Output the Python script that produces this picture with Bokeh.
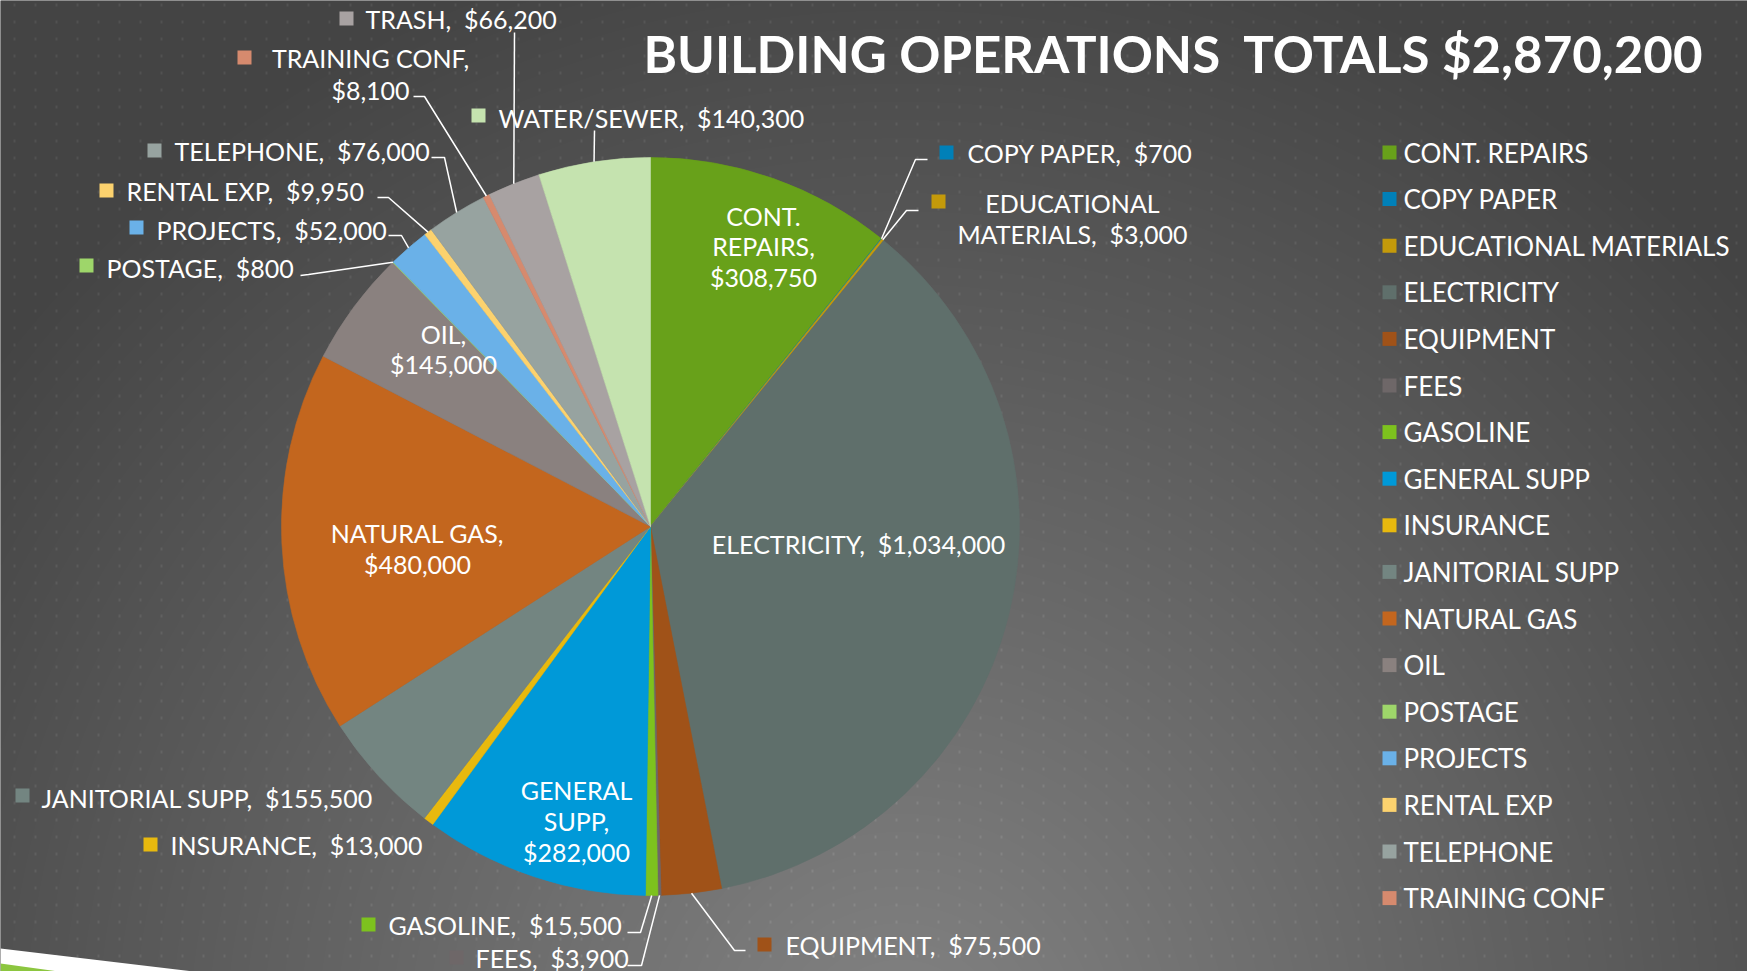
import numpy as np
from bokeh.plotting import figure
from bokeh.models import Range1d, ColumnDataSource
from bokeh.embed import file_html
from bokeh.resources import INLINE
from bokeh.core.properties import value

# ---------------- data ----------------
categories = ["CONT. REPAIRS", "COPY PAPER", "EDUCATIONAL MATERIALS", "ELECTRICITY",
              "EQUIPMENT", "FEES", "GASOLINE", "GENERAL SUPP", "INSURANCE",
              "JANITORIAL SUPP", "NATURAL GAS", "OIL", "POSTAGE", "PROJECTS",
              "RENTAL EXP", "TELEPHONE", "TRAINING CONF", "TRASH", "WATER/SEWER"]
amounts = [308750, 700, 3000, 1034000, 75500, 3900, 15500, 282000, 13000,
           155500, 480000, 145000, 800, 52000, 9950, 76000, 8100, 66200, 140300]
colors = ["#68A11A", "#0080B8", "#C49A0A", "#5F6F6B", "#A05218", "#6E6768",
          "#7DC21E", "#0099D8", "#E8B90E", "#738581", "#C3661E", "#8A817F",
          "#9ED66A", "#6AB1E8", "#FCD26E", "#97A3A0", "#D68A6E", "#A8A2A2",
          "#C5E3AF"]
legend_count = 17
title_prefix = "BUILDING OPERATIONS\u00a0 TOTALS"

# ---------------- layout (reference pixel coords, y down) ----------------
W, H, OFF, REF_H = 1747, 971, 0, 971
CX, CY, R = 650, 526, 369
FONT = value("Lato")
LBL = "25px"


def fy(y):
    return REF_H - y


# label layout: kind, text anchor, line y's, token breaks, square, elbow points
layout = {
    "CONT. REPAIRS": dict(kind="in", x=763, ys=[215, 245, 276], breaks=[1, 2]),
    "ELECTRICITY": dict(kind="in", x=858, ys=[543], breaks=[]),
    "GENERAL SUPP": dict(kind="in", x=576, ys=[789, 820, 851], breaks=[1, 2]),
    "NATURAL GAS": dict(kind="in", x=417, ys=[532, 563], breaks=[2]),
    "OIL": dict(kind="in", x=443, ys=[333, 363], breaks=[1]),
    "COPY PAPER": dict(kind="out", align="left", x=967, ys=[152], breaks=[], sq=(946, 152),
                       elbow=[(927, 159), (915, 159)]),
    "EDUCATIONAL MATERIALS": dict(kind="out", align="center", x=1072, ys=[202, 233], breaks=[1],
                                  sq=(938, 201), elbow=[(918, 210), (906, 210)]),
    "EQUIPMENT": dict(kind="out", align="left", x=785, ys=[944], breaks=[], sq=(764, 944),
                      elbow=[(745, 950), (734, 950)]),
    "FEES": dict(kind="out", align="left", x=475, ys=[957], breaks=[], sq=(456, 957),
                 elbow=[(627, 965), (641, 965)]),
    "GASOLINE": dict(kind="out", align="left", x=388, ys=[924], breaks=[], sq=(368, 924),
                     elbow=[(627, 932), (640, 932)]),
    "INSURANCE": dict(kind="out", align="left", x=170, ys=[844], breaks=[], sq=(150, 844), elbow=None),
    "JANITORIAL SUPP": dict(kind="out", align="left", x=41, ys=[797], breaks=[], sq=(22, 795), elbow=None),
    "POSTAGE": dict(kind="out", align="left", x=106, ys=[267], breaks=[], sq=(86, 265),
                    elbow=[(300, 275), (308, 274)]),
    "PROJECTS": dict(kind="out", align="left", x=156, ys=[229], breaks=[], sq=(136, 227),
                     elbow=[(388, 235), (401, 235)]),
    "RENTAL EXP": dict(kind="out", align="left", x=126, ys=[190], breaks=[], sq=(106, 190),
                       elbow=[(377, 197), (388, 197)]),
    "TELEPHONE": dict(kind="out", align="left", x=174, ys=[150], breaks=[], sq=(154, 150),
                      elbow=[(431, 157), (444, 157)]),
    "TRAINING CONF": dict(kind="out", align="center", x=370, ys=[57, 89], breaks=[2],
                          sq=(244, 57), elbow=[(413, 96), (424, 96)]),
    "TRASH": dict(kind="out", align="left", x=365, ys=[18], breaks=[], sq=(346, 18),
                  elbow=[(514, 32)]),
    "WATER/SEWER": dict(kind="out", align="left", x=498, ys=[117], breaks=[], sq=(478, 115),
                        elbow=[(594, 130)]),
}

# ---------------- figure ----------------
p = figure(width=W, height=H, x_range=Range1d(OFF, OFF + W),
           y_range=Range1d(REF_H - OFF - H, REF_H - OFF),
           output_backend="svg", toolbar_location=None,
           x_axis_type=None, y_axis_type=None, min_border=0)
p.grid.visible = False
p.outline_line_color = None
p.background_fill_color = "#555555"
p.border_fill_color = "#555555"

# background gradient with dotted grid
xs = OFF + np.arange(W) + 0.5
ys = OFF + np.arange(H) + 0.5
X, Y = np.meshgrid(xs, ys)
d = np.hypot(X - 900, Y - 1050)
v = 131 - 63 * np.clip(d / 1150.0, 0, 1)
dots = (((X - 13) % 21.0) < 2) & (((Y - 3.2) % 16.98) < 3)
v = np.clip(v + np.where(dots, 13, 0), 0, 255).astype(np.uint8)
img = np.empty((H, W), dtype=np.uint32)
view = img.view(dtype=np.uint8).reshape((H, W, 4))
view[..., 0] = v
view[..., 1] = v
view[..., 2] = v
view[..., 3] = 255
img = np.ascontiguousarray(img[::-1])
p.image_rgba(image=[img], x=OFF, y=REF_H - OFF - H, dw=W, dh=H)

# decorative stripe bottom-left
p.patch([0, 193, 0], [fy(948), fy(971), fy(971)], fill_color="white", line_color=None)
p.patch([0, 58, 0], [fy(963), fy(971), fy(971)], fill_color="#8CC63F", line_color=None)

# title
total = sum(amounts)
p.text(x=[643], y=[fy(53)], text=[f"{title_prefix} ${total:,}"], text_font=FONT,
       text_font_size="51px", text_font_style="bold", text_color="white",
       text_align="left", text_baseline="middle")

# pie
frac = np.array(amounts, dtype=float) / total
cum = np.concatenate([[0.0], np.cumsum(frac)])
start = np.pi / 2 - 2 * np.pi * cum[:-1]
end = np.pi / 2 - 2 * np.pi * cum[1:]
mid = (start + end) / 2
src = ColumnDataSource(dict(start=start, end=end, color=colors))
p.wedge(x=CX, y=fy(CY), radius=R, start_angle="start", end_angle="end",
        direction="clock", fill_color="color", line_color="color", line_width=0.6,
        source=src)


def label_lines(cat, amt, breaks):
    tokens = cat.split()
    tokens[-1] = tokens[-1] + ","
    tokens.append(f"${amt:,}")
    n_name = len(tokens) - 1
    cuts = [0] + breaks + [len(tokens)]
    lines = []
    for a, b in zip(cuts[:-1], cuts[1:]):
        seg = ""
        for k in range(a, b):
            if k > a:
                seg += "\u00a0 " if k == n_name else " "
            seg += tokens[k]
        lines.append(seg)
    return lines


for i, cat in enumerate(categories):
    L = layout[cat]
    lines = label_lines(cat, amounts[i], L["breaks"])
    if L["kind"] == "in":
        p.text(x=[L["x"]] * len(lines), y=[fy(yy) for yy in L["ys"]], text=lines,
               text_font=FONT, text_font_size=LBL, text_color="white",
               text_align="center", text_baseline="middle")
        continue
    p.text(x=[L["x"]] * len(lines), y=[fy(yy) for yy in L["ys"]], text=lines,
           text_font=FONT, text_font_size=LBL, text_color="white",
           text_align=L["align"], text_baseline="middle")
    sx, sy = L["sq"]
    p.rect(x=[sx], y=[fy(sy)], width=14, height=14, fill_color=colors[i], line_color=None)
    if L["elbow"]:
        ex = CX + R * np.cos(mid[i])
        ey = fy(CY) + R * np.sin(mid[i])
        lx = [pt[0] for pt in L["elbow"]] + [ex]
        ly = [fy(pt[1]) for pt in L["elbow"]] + [ey]
        p.line(lx, ly, line_color="white", line_width=1.5)

# legend (first entries)
leg_y = [fy(152 + 46.6 * k) for k in range(legend_count)]
p.rect(x=[1389] * legend_count, y=leg_y, width=14, height=14,
       fill_color=colors[:legend_count], line_color=None)
p.text(x=[1403] * legend_count, y=leg_y, text=categories[:legend_count], text_font=FONT,
       text_font_size="26px", text_color="white", text_align="left", text_baseline="middle")

open("out.html", "w").write(file_html(p, INLINE))
